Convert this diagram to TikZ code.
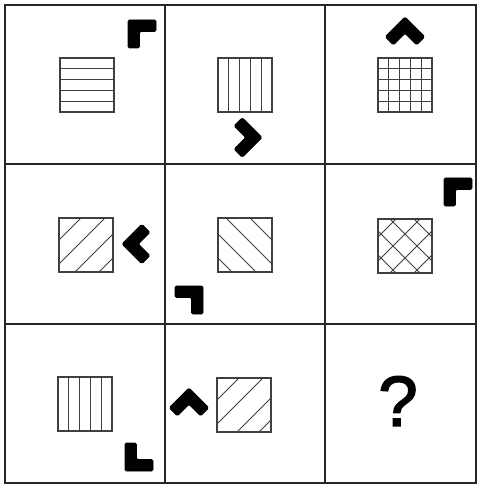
\documentclass[tikz,border=0pt]{standalone}
\usepackage{fontspec}
\setmainfont{Liberation Sans}
\newfontfamily\qfont[FakeBold=2]{Liberation Sans}
\begin{document}
\begin{tikzpicture}[x=1pt,y=-1pt,
  gridline/.style={line width=1.7pt,draw=black!85},
  sqbox/.style={line width=1.2pt,draw=black!75},
  hatch/.style={line width=1.0pt,draw=black!75},
  lshape/.style={fill=black,draw=black,line width=0.8pt,rounded corners=1.4pt}]
\useasboundingbox[fill=white] (0,0) rectangle (478,486);
% grid
\draw[gridline] (5,5) rectangle (476,483);
\draw[gridline] (165,5) -- (165,483);
\draw[gridline] (325,5) -- (325,483);
\draw[gridline] (5,164) -- (476,164);
\draw[gridline] (5,324) -- (476,324);
% L-shaped marks: corner at origin, arms right and down, rotated
\newcommand{\Lmark}[3]{%
  \begin{scope}[shift={(#1,#2)},rotate=#3]
    \path[lshape] (0,0) -- (28,0) -- (28,11.5) -- (11.5,11.5) -- (11.5,28) -- (0,28) -- cycle;
  \end{scope}}
% cell 1,1 : horizontal stripes
\begin{scope}[shift={(60,58)}]
  \foreach \k in {1,...,4} \draw[hatch] (0,{10.8*\k}) -- (54,{10.8*\k});
  \draw[sqbox] (0,0) rectangle (54,54);
\end{scope}
\Lmark{128}{20}{0}
% cell 1,2 : vertical stripes
\begin{scope}[shift={(218,58)}]
  \foreach \k in {1,...,4} \draw[hatch] ({10.8*\k},0) -- ({10.8*\k},54);
  \draw[sqbox] (0,0) rectangle (54,54);
\end{scope}
\Lmark{262}{137.5}{-135}
% cell 1,3 : grid
\begin{scope}[shift={(378,58)}]
  \foreach \k in {1,...,4} {\draw[hatch] ({10.8*\k},0) -- ({10.8*\k},54);
    \draw[hatch] (0,{10.8*\k}) -- (54,{10.8*\k});}
  \draw[sqbox] (0,0) rectangle (54,54);
\end{scope}
\Lmark{405}{17}{-45}
% cell 2,1 : "/" hatch
\begin{scope}[shift={(59,218)}]
  \clip (0,0) rectangle (54,54);
  \foreach \c in {22,46,70,94} \draw[hatch] (\c,0) -- ({\c-60},60);
\end{scope}
\draw[sqbox] (59,218) rectangle +(54,54);
\Lmark{122}{244}{45}
% cell 2,2 : "\" hatch
\begin{scope}[shift={(218,218)}]
  \clip (0,0) rectangle (54,54);
  \foreach \c in {32,8,-16,-40} \draw[hatch] (\c,0) -- ({\c+60},60);
\end{scope}
\draw[sqbox] (218,218) rectangle +(54,54);
\Lmark{203}{286}{-90}
% cell 2,3 : cross hatch
\begin{scope}[shift={(378,219)}]
  \clip (0,0) rectangle (54,54);
  \foreach \c in {18,42,66,90} \draw[hatch] (\c,0) -- ({\c-60},60);
  \foreach \c in {12,-12,36,-36} \draw[hatch] (\c,0) -- ({\c+60},60);
\end{scope}
\draw[sqbox] (378,219) rectangle +(54,54);
\Lmark{444}{178}{0}
% cell 3,1 : vertical stripes
\begin{scope}[shift={(58,377)}]
  \foreach \k in {1,...,4} \draw[hatch] ({10.8*\k},0) -- ({10.8*\k},54);
  \draw[sqbox] (0,0) rectangle (54,54);
\end{scope}
\Lmark{125}{471}{90}
% cell 3,2 : "/" hatch
\begin{scope}[shift={(217,378)}]
  \clip (0,0) rectangle (54,54);
  \foreach \c in {22,46,74,96} \draw[hatch] (\c,0) -- ({\c-60},60);
\end{scope}
\draw[sqbox] (217,378) rectangle +(54,54);
\Lmark{189}{388}{-45}
% cell 3,3 : question mark
\node[inner sep=0pt,font=\qfont\fontsize{71}{71}\selectfont] (q) at (398,401) {?};
\end{tikzpicture}
\end{document}
